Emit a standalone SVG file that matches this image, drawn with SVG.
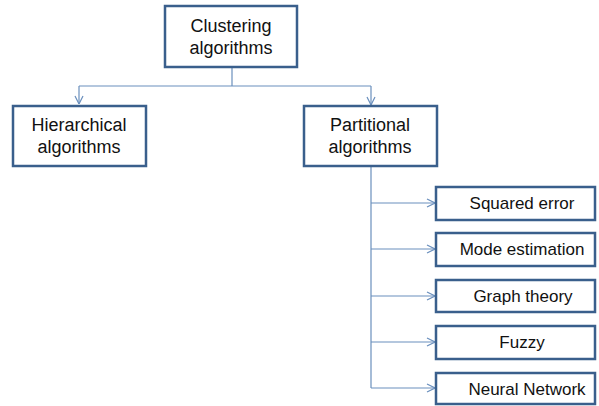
<svg xmlns="http://www.w3.org/2000/svg" width="599" height="406" viewBox="0 0 599 406">
<style>
.box{fill:#fff;stroke:#3a5f8c;stroke-width:2.5}
.ln{fill:none;stroke:#6a8fbd;stroke-width:1.2}
.t{font-family:"Liberation Sans",Arial,sans-serif;fill:#111;text-anchor:middle}
.big{font-size:18px}
.sm{font-size:17px}
</style>
<defs>
<marker id="ah" viewBox="0 0 10 10" refX="10" refY="5" markerWidth="10" markerHeight="10" markerUnits="userSpaceOnUse" orient="auto">
<polyline points="2,1 10,5 2,9" fill="none" stroke="#6a8fbd" stroke-width="1.2"/>
</marker>
</defs>
<rect width="599" height="406" fill="#fff"/>
<g id="connectors">
<path class="ln" d="M232,67 V86"/>
<path class="ln" d="M79,86 H371"/>
<path class="ln" d="M79,86 V104" marker-end="url(#ah)"/>
<path class="ln" d="M371,86 V105" marker-end="url(#ah)"/>
<path class="ln" d="M371,167 V388"/>
<path class="ln" d="M371,203 H435" marker-end="url(#ah)"/>
<path class="ln" d="M371,249 H435" marker-end="url(#ah)"/>
<path class="ln" d="M371,296 H435" marker-end="url(#ah)"/>
<path class="ln" d="M371,342 H435" marker-end="url(#ah)"/>
<path class="ln" d="M371,388 H435" marker-end="url(#ah)"/>
</g>
<g id="clustering">
<rect class="box" x="165" y="6" width="132" height="61"/>
<text class="t big" x="231" y="32">Clustering</text>
<text class="t big" x="231" y="54">algorithms</text>
</g>
<g id="hierarchical">
<rect class="box" x="13" y="106" width="133" height="60"/>
<text class="t big" x="79" y="131">Hierarchical</text>
<text class="t big" x="79" y="153">algorithms</text>
</g>
<g id="partitional">
<rect class="box" x="304" y="106" width="133" height="60"/>
<text class="t big" x="370" y="131">Partitional</text>
<text class="t big" x="370" y="153">algorithms</text>
</g>
<g id="squared">
<rect class="box" x="436" y="187" width="159" height="33"/>
<text class="t sm" x="522" y="209">Squared error</text>
</g>
<g id="mode">
<rect class="box" x="436" y="233" width="159" height="33"/>
<text class="t sm" x="522" y="255">Mode estimation</text>
</g>
<g id="graph">
<rect class="box" x="436" y="280" width="159" height="32"/>
<text class="t sm" x="523" y="302">Graph theory</text>
</g>
<g id="fuzzy">
<rect class="box" x="436" y="326" width="159" height="33"/>
<text class="t sm" x="522" y="348">Fuzzy</text>
</g>
<g id="neural">
<rect class="box" x="436" y="373" width="159" height="31"/>
<text class="t sm" x="527" y="395">Neural Network</text>
</g>
</svg>
